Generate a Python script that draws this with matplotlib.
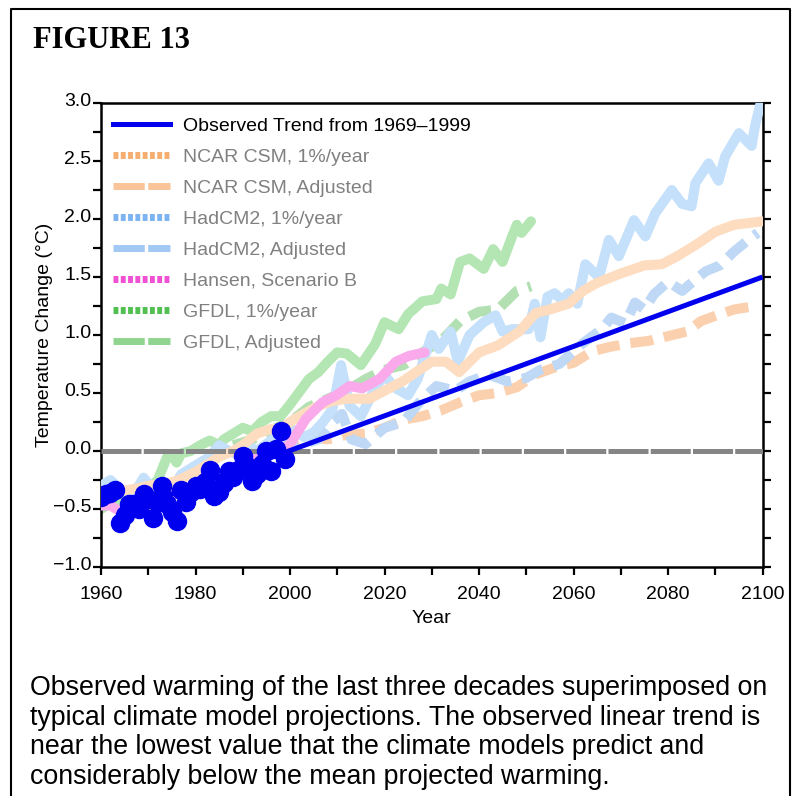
import matplotlib
matplotlib.use("Agg")
import matplotlib.pyplot as plt
from matplotlib.lines import Line2D
from matplotlib.transforms import ScaledTranslation

plt.rcParams['font.family'] = ['Liberation Sans', 'DejaVu Sans']

# ---------------- data ----------------
obs_years = list(range(1960, 2000))
obs_vals = [-0.40, -0.37, -0.36, -0.34, -0.62, -0.55, -0.46, -0.46, -0.50, -0.37,
            -0.41, -0.58, -0.44, -0.30, -0.46, -0.53, -0.60, -0.34, -0.44, -0.35,
            -0.30, -0.33, -0.27, -0.16, -0.39, -0.35, -0.28, -0.17, -0.22, -0.16,
            -0.04, -0.13, -0.26, -0.20, -0.11, 0.00, -0.17, 0.02, 0.17, -0.07]

trend_years = [1969, 2100]
trend_vals = [-0.46, 1.50]

gfdl_years = [1960, 1962, 1964, 1966, 1968, 1970, 1972, 1973, 1974, 1975, 1976, 1977,
              1979, 1981, 1983, 1985, 1986, 1988, 1990, 1992, 1994, 1996, 1998, 2000,
              2002, 2004, 2006, 2008, 2010, 2012, 2015, 2018, 2020, 2023, 2025, 2028,
              2031, 2032, 2034, 2036, 2038, 2041, 2043, 2045, 2047, 2048, 2049, 2051]
gfdl_vals = [-0.50, -0.45, -0.42, -0.38, -0.36, -0.33, -0.25, -0.15, -0.05, -0.03, -0.10, -0.02,
             0.00, 0.05, 0.09, 0.05, 0.10, 0.15, 0.20, 0.17, 0.25, 0.30, 0.30, 0.40,
             0.51, 0.62, 0.68, 0.77, 0.85, 0.84, 0.74, 0.92, 1.11, 1.05, 1.18, 1.29,
             1.31, 1.40, 1.35, 1.63, 1.66, 1.57, 1.74, 1.63, 1.85, 1.95, 1.88, 1.98]

had_years = [1960, 1962, 1964, 1966, 1968, 1969, 1971, 1973, 1975, 1977, 1979, 1981,
             1983, 1985, 1987, 1989, 1991, 1993, 1995, 1997, 1999, 2001, 2003, 2005,
             2007, 2009, 2010.8, 2012.6, 2015, 2018, 2020, 2022, 2025, 2027, 2030, 2031.5,
             2034, 2035.5, 2038, 2041, 2043.5, 2045, 2047, 2050.5, 2051.8, 2053, 2054.5, 2056,
             2057.6, 2059, 2060.8, 2062.5, 2065.4, 2067.5, 2069.6, 2072.8, 2075.2, 2077.3, 2080.8, 2083,
             2085, 2085.8, 2088.6, 2090.7, 2092.1, 2095, 2097.7, 2098.4, 2099.6]
had_vals = [-0.30, -0.25, -0.33, -0.38, -0.30, -0.23, -0.33, -0.30, -0.33, -0.20, -0.15, -0.10,
            -0.05, 0.05, 0.00, -0.03, 0.05, 0.00, 0.06, 0.12, 0.08, 0.18, 0.12, 0.16,
            0.25, 0.36, 0.74, 0.39, 0.30, 0.54, 0.66, 0.55, 0.48, 0.62, 1.00, 0.88,
            1.03, 0.77, 1.00, 1.11, 1.17, 1.03, 1.05, 1.05, 1.27, 0.98, 1.33, 1.36,
            1.30, 1.36, 1.27, 1.61, 1.50, 1.82, 1.68, 1.99, 1.85, 2.05, 2.25, 2.13,
            2.11, 2.31, 2.48, 2.33, 2.54, 2.74, 2.63, 2.80, 3.00]

ncar_years = [1960, 1963, 1965, 1968, 1970, 1973, 1975, 1977, 1980, 1982, 1985, 1988,
              1990, 1993, 1996, 1998, 2000, 2002, 2006, 2009, 2012, 2016.8, 2020, 2023.8,
              2027.4, 2030, 2033, 2035.8, 2040, 2044, 2048.5, 2052, 2055, 2059, 2062, 2065,
              2070, 2075, 2078.7, 2082, 2086, 2090, 2094, 2100]
ncar_vals = [-0.42, -0.37, -0.34, -0.32, -0.30, -0.28, -0.27, -0.24, -0.18, -0.13, -0.05, 0.00,
             0.05, 0.15, 0.19, 0.19, 0.25, 0.30, 0.39, 0.43, 0.45, 0.45, 0.52, 0.60,
             0.70, 0.77, 0.77, 0.68, 0.85, 0.91, 1.03, 1.19, 1.22, 1.27, 1.38, 1.45,
             1.53, 1.60, 1.61, 1.68, 1.78, 1.89, 1.95, 1.98]

hansen_years = [1960, 1962, 1964, 1966, 1968, 1970, 1972, 1975, 1978, 1980, 1983, 1986,
                1989, 1992, 1995, 1998, 2000, 2003.4, 2006.9, 2009.8, 2012.6, 2015.3, 2018.9,
                2022.4, 2025.2, 2028.5]
hansen_vals = [-0.47, -0.47, -0.52, -0.55, -0.52, -0.45, -0.42, -0.37, -0.38, -0.36, -0.30, -0.24,
               -0.15, -0.07, -0.03, 0.00, 0.06, 0.28, 0.42, 0.48, 0.56, 0.54, 0.62,
               0.77, 0.82, 0.85]

ncar_adj_years = [1990, 1995, 2000, 2004, 2008, 2012, 2016, 2020, 2024, 2028, 2032, 2036,
                  2040, 2044, 2048, 2052, 2056, 2060, 2064, 2068, 2072, 2076, 2080, 2084,
                  2087, 2091, 2094, 2097]
ncar_adj_vals = [-0.02, 0.02, 0.06, 0.12, 0.10, 0.14, 0.15, 0.20, 0.27, 0.30, 0.35, 0.42,
                 0.48, 0.50, 0.55, 0.66, 0.72, 0.76, 0.86, 0.90, 0.93, 0.95, 0.99, 1.03,
                 1.12, 1.18, 1.22, 1.24]

had_adj_years = [1990, 1994, 1998, 2002, 2006, 2009, 2011, 2013, 2016, 2020, 2024, 2028,
                 2031, 2035, 2038, 2042, 2046, 2050, 2053, 2057, 2062, 2066, 2068, 2071,
                 2073, 2075, 2077, 2080, 2083, 2085, 2088, 2091, 2094, 2097, 2099]
had_adj_vals = [-0.05, -0.02, 0.00, 0.05, 0.10, 0.25, 0.32, 0.10, 0.06, 0.20, 0.25, 0.45,
                0.56, 0.52, 0.60, 0.66, 0.60, 0.63, 0.70, 0.75, 0.93, 1.05, 1.15, 1.10,
                1.28, 1.22, 1.35, 1.46, 1.38, 1.45, 1.55, 1.60, 1.72, 1.82, 1.88]

gfdl_adj_years = [1988, 1992, 1996, 2000, 2004, 2008, 2012, 2016, 2020, 2024, 2028, 2032,
                  2036, 2040, 2044, 2048, 2051]
gfdl_adj_vals = [0.05, 0.10, 0.18, 0.25, 0.38, 0.45, 0.52, 0.62, 0.70, 0.74, 0.85, 0.95,
                 1.12, 1.20, 1.22, 1.38, 1.42]

legend_labels = ["Observed Trend from 1969\u20131999", "NCAR CSM, 1%/year", "NCAR CSM, Adjusted",
                 "HadCM2, 1%/year", "HadCM2, Adjusted", "Hansen, Scenario B",
                 "GFDL, 1%/year", "GFDL, Adjusted"]

caption_lines = ["Observed warming of the last three decades superimposed on",
                 "typical climate model projections. The observed linear trend is",
                 "near the lowest value that the climate models predict and",
                 "considerably below the mean projected warming."]

# ---------------- style ----------------
BLUE = '#0000ee'
C_GFDL = '#b3e6b3'
C_HAD = '#c4e0fa'
C_NCAR = '#fddcc0'
C_HANSEN = '#faaaeb'
C_NCAR_ADJ = '#fad0ae'
C_HAD_ADJ = '#bfd8f5'
C_GFDL_ADJ = '#b2e0b2'

W, H = 793, 796
fig = plt.figure(figsize=(W / 100, H / 100), dpi=100)
ax = fig.add_axes([101 / W, 1 - 567 / H, 661.5 / W, 464 / H])

LW = 7.2
adj_dash = (2.3, 1.1)
ax.plot(ncar_adj_years, ncar_adj_vals, color=C_NCAR_ADJ, lw=LW, dashes=adj_dash, zorder=1)
ax.plot(had_adj_years, had_adj_vals, color=C_HAD_ADJ, lw=LW, dashes=adj_dash, zorder=1)
ax.plot(gfdl_adj_years, gfdl_adj_vals, color=C_GFDL_ADJ, lw=LW, dashes=adj_dash, zorder=1)

for yrs, vals, col, z in [(gfdl_years, gfdl_vals, C_GFDL, 2),
                          (had_years, had_vals, C_HAD, 3),
                          (ncar_years, ncar_vals, C_NCAR, 4),
                          (hansen_years, hansen_vals, C_HANSEN, 5)]:
    ax.plot(yrs, vals, color=col, lw=LW, solid_joinstyle='round',
            solid_capstyle='round', zorder=z)

ax.axhline(0, color='#858585', lw=3.6, dashes=(8, 0.45), zorder=6)

ax.plot(trend_years, trend_vals, color=BLUE, lw=3.6, zorder=7, solid_capstyle='butt')
ax.plot(obs_years, obs_vals, linestyle='none', marker='o', markersize=13,
        markerfacecolor=BLUE, markeredgecolor=BLUE, zorder=8)

ax.set_xlim(1960, 2100)
ax.set_ylim(-1.0, 3.0)
ax.set_xticks(range(1960, 2101, 20))
ax.set_xticks(range(1970, 2100, 20), minor=True)
ax.set_yticks([-1.0, -0.5, 0.0, 0.5, 1.0, 1.5, 2.0, 2.5, 3.0])
ax.set_yticks([-0.75, -0.25, 0.25, 0.75, 1.25, 1.75, 2.25, 2.75], minor=True)
ax.set_yticklabels([f"{v:.1f}".replace('-', '\u2212') for v in ax.get_yticks()])

for s in ax.spines.values():
    s.set_linewidth(1.8)
ax.tick_params(axis='both', which='both', direction='out', width=1.6, labelsize=14,
               color='black')
ax.tick_params(axis='y', which='both', length=5.5, pad=1.5, left=True, right=True)
ax.tick_params(axis='x', which='both', length=6, pad=8, top=False)
ax.set_xlabel("Year", fontsize=14, labelpad=5)
ax.set_ylabel("Temperature Change (\u00b0C)", fontsize=14, labelpad=0)

up = ScaledTranslation(0, 3 / 100, fig.dpi_scale_trans)
for lab in ax.get_yticklabels():
    lab.set_transform(lab.get_transform() + up)

handles = [
    Line2D([], [], color=BLUE, lw=3.6),
    Line2D([], [], color='#f5ad70', lw=5, dashes=(0.7, 0.35)),
    Line2D([], [], color='#f8c498', lw=5, dashes=(4.5, 0.5)),
    Line2D([], [], color='#7cb4f2', lw=5, dashes=(0.7, 0.35)),
    Line2D([], [], color='#a2c8f4', lw=5, dashes=(4.5, 0.5)),
    Line2D([], [], color='#f050d4', lw=5, dashes=(0.7, 0.35)),
    Line2D([], [], color='#50c050', lw=5, dashes=(0.7, 0.35)),
    Line2D([], [], color='#90d490', lw=5, dashes=(4.5, 0.5)),
]
leg = ax.legend(handles, legend_labels, loc='upper left',
                bbox_to_anchor=((113 - 101) / 661.5, (567 - 117) / 464),
                frameon=False, fontsize=14, handlelength=2.95, handletextpad=0.65,
                labelspacing=0.69, borderpad=0, borderaxespad=0)
for i, t in enumerate(leg.get_texts()):
    t.set_color('black' if i == 0 else '#808080')

# title and caption
fig.text(33 / W, 1 - 48 / H, "FIGURE 13", fontsize=22, fontweight='bold',
         family=['Liberation Serif', 'DejaVu Serif'], va='baseline', ha='left')
for i, line in enumerate(caption_lines):
    fig.text(30 / W, 1 - (695 + 29.7 * i) / H, line, fontsize=19.25, va='baseline', ha='left')

# page border (left, top, right)
bx0, bx1, by1 = 11 / W, 790 / W, 1 - 8.5 / H
fig.add_artist(Line2D([bx0, bx0, bx1, bx1], [0, by1, by1, 0], color='black', lw=1.5,
                      transform=fig.transFigure))

fig.savefig("out.png", dpi=100)
